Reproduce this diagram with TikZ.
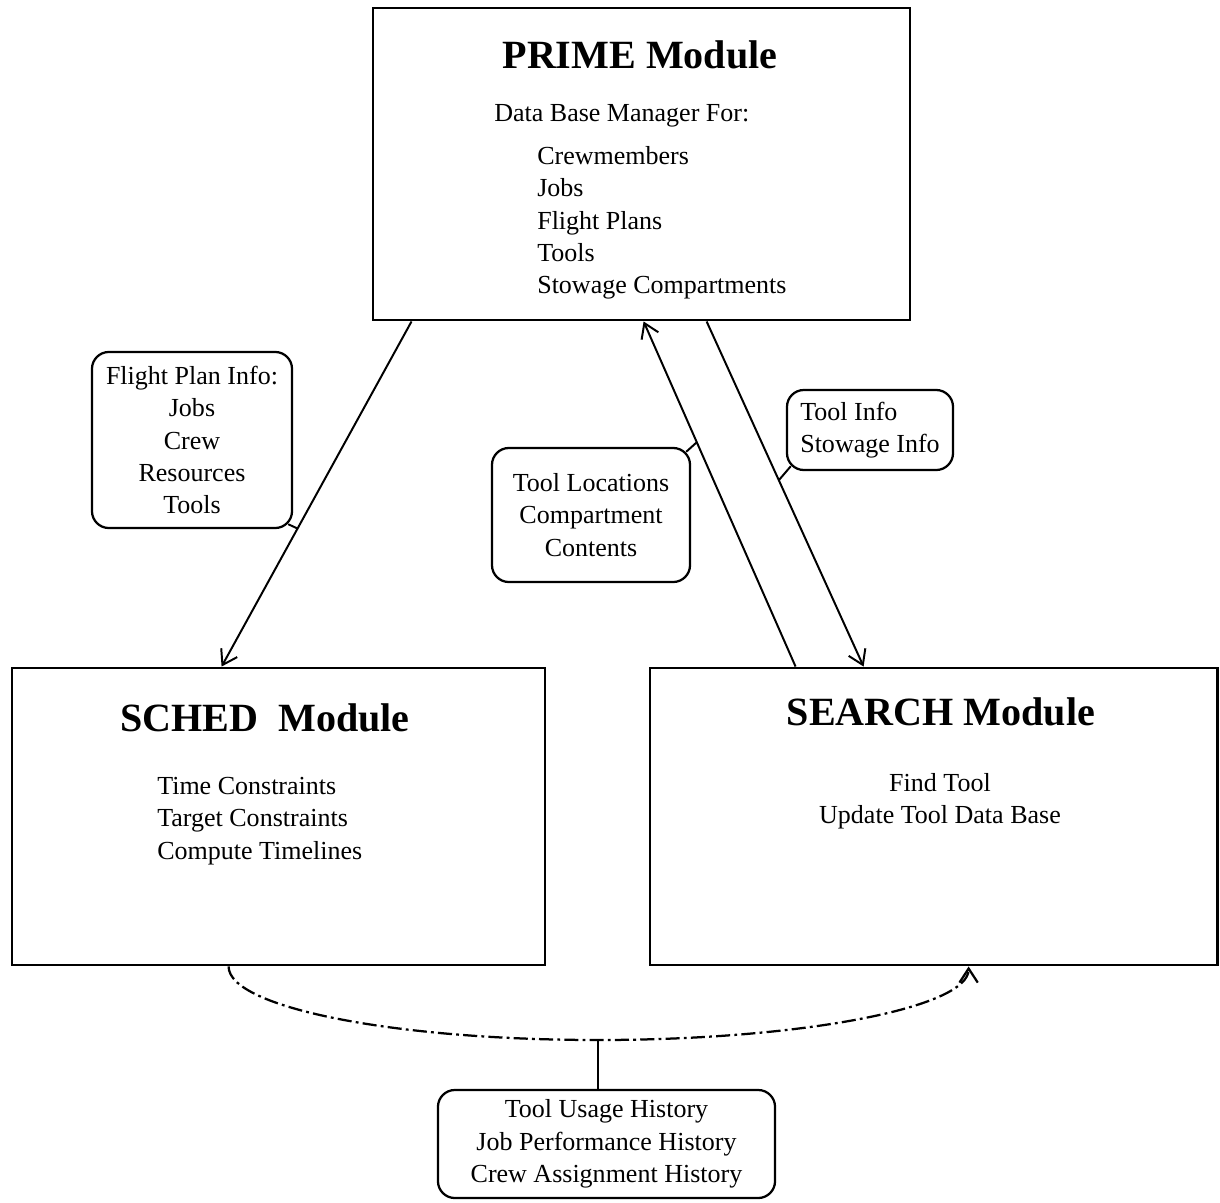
\documentclass[tikz,border=0pt]{standalone}
\usepackage{fontspec}
\setmainfont{Liberation Serif}
\usetikzlibrary{arrows.meta, positioning}

\newcommand{\txtsize}{\fontsize{18.5}{23}\selectfont}
\newcommand{\modsize}{\fontsize{28.5}{34}\selectfont\bfseries}

\begin{document}
\begin{tikzpicture}[
  x=0.025cm, y=-0.025cm,
  every node/.style={font=\txtsize, inner sep=0pt},
  modbox/.style={
    rectangle, draw, line width=2pt,
    minimum height=7.425cm
  },
  title/.style={font=\modsize},
  info/.style={
    rectangle, rounded corners=12pt,
    draw, line width=1.6pt, align=center
  },
  arr/.style={-{Straight Barb[length=10pt, width=13pt]}, line width=1.4pt},
  tap/.style={line width=1.4pt},
  histline/.style={arr, line width=1.6pt, dash pattern=on 10pt off 3pt on 2pt off 3pt}
]
\useasboundingbox (0,0) rectangle (1220,1202);

% top box (data base manager)
\node[modbox, minimum width=13.425cm, minimum height=7.8cm] (prime) at (641.5,164) {};
\node[title] (primeT) at (640,55) {PRIME Module};
\node[anchor=west] (dbm) at (494,116) {Data Base Manager For:};
\node[anchor=north west, align=left] (dblist) at (537,146)
  {Crewmembers\\Jobs\\Flight Plans\\Tools\\Stowage Compartments};

% lower left box (scheduler)
\node[modbox, minimum width=13.325cm] (sched) at (278.5,816.5) {};
\node[title, anchor=west] (schedT) at (120,718) {SCHED\ \ Module};
\node[anchor=north west, align=left] (schedL) at (157,777)
  {Time Constraints\\Target Constraints\\Compute Timelines};

% lower right box (tool search)
\node[modbox, minimum width=14.175cm] (search) at (933.5,816.5) {};
\node[title] (searchT) at (941,712) {SEARCH Module};
\node[align=center] (searchL) at (940,801) {Find Tool\\Update Tool Data Base};

% ======================
% FLOWS
% ======================

% PRIME -> SCHED
\draw[arr] ([xshift=1cm]prime.south west)
  -- coordinate[pos=0.6] (fpTap) ([xshift=5.275cm]sched.north west);

% SEARCH -> PRIME
\draw[arr] ([xshift=3.675cm]search.north west)
  -- coordinate[pos=0.65] (tlTap) ([xshift=6.8cm]prime.south west);

% PRIME -> SEARCH
\draw[arr] ([xshift=8.375cm]prime.south west)
  -- coordinate[pos=0.46] (tiTap) ([xshift=5.375cm]search.north west);

% labels hung on the flows
\node[info, minimum width=5cm, minimum height=4.4cm] (fplan) at (192,440)
  {Flight Plan Info:\\Jobs\\Crew\\Resources\\Tools};
\node[info, minimum width=4.95cm, minimum height=3.35cm] (tloc) at (591,515)
  {Tool Locations\\Compartment\\Contents};
\node[info, minimum width=4.15cm, minimum height=2cm, align=left] (tinfo) at (870,430)
  {Tool Info\\Stowage Info};

\draw[tap] ([xshift=-3.5pt,yshift=3.5pt]fplan.south east) -- (fpTap);
\draw[tap] ([xshift=-3.5pt,yshift=-3.5pt]tloc.north east) -- (tlTap);
\draw[tap] ([xshift=3.5pt,yshift=3.5pt]tinfo.south west) -- (tiTap);

% history exchange between SCHED and SEARCH
\coordinate (schedOut) at ([xshift=5.45cm]sched.south west);
\coordinate (searchIn) at ([xshift=8cm]search.south west);
\coordinate (histJoin) at (598,1040);

\draw[histline] (schedOut) .. controls +(0,41) and +(-204,0) .. (histJoin)
  .. controls +(204,0) and +(0,41) .. (searchIn);

\node[info, minimum width=8.425cm, minimum height=2.7cm] (usage) at (606.5,1144)
  {Tool Usage History\\Job Performance History\\Crew Assignment History};
\draw[tap] (histJoin) -- (usage.north -| histJoin);

\end{tikzpicture}
\end{document}
